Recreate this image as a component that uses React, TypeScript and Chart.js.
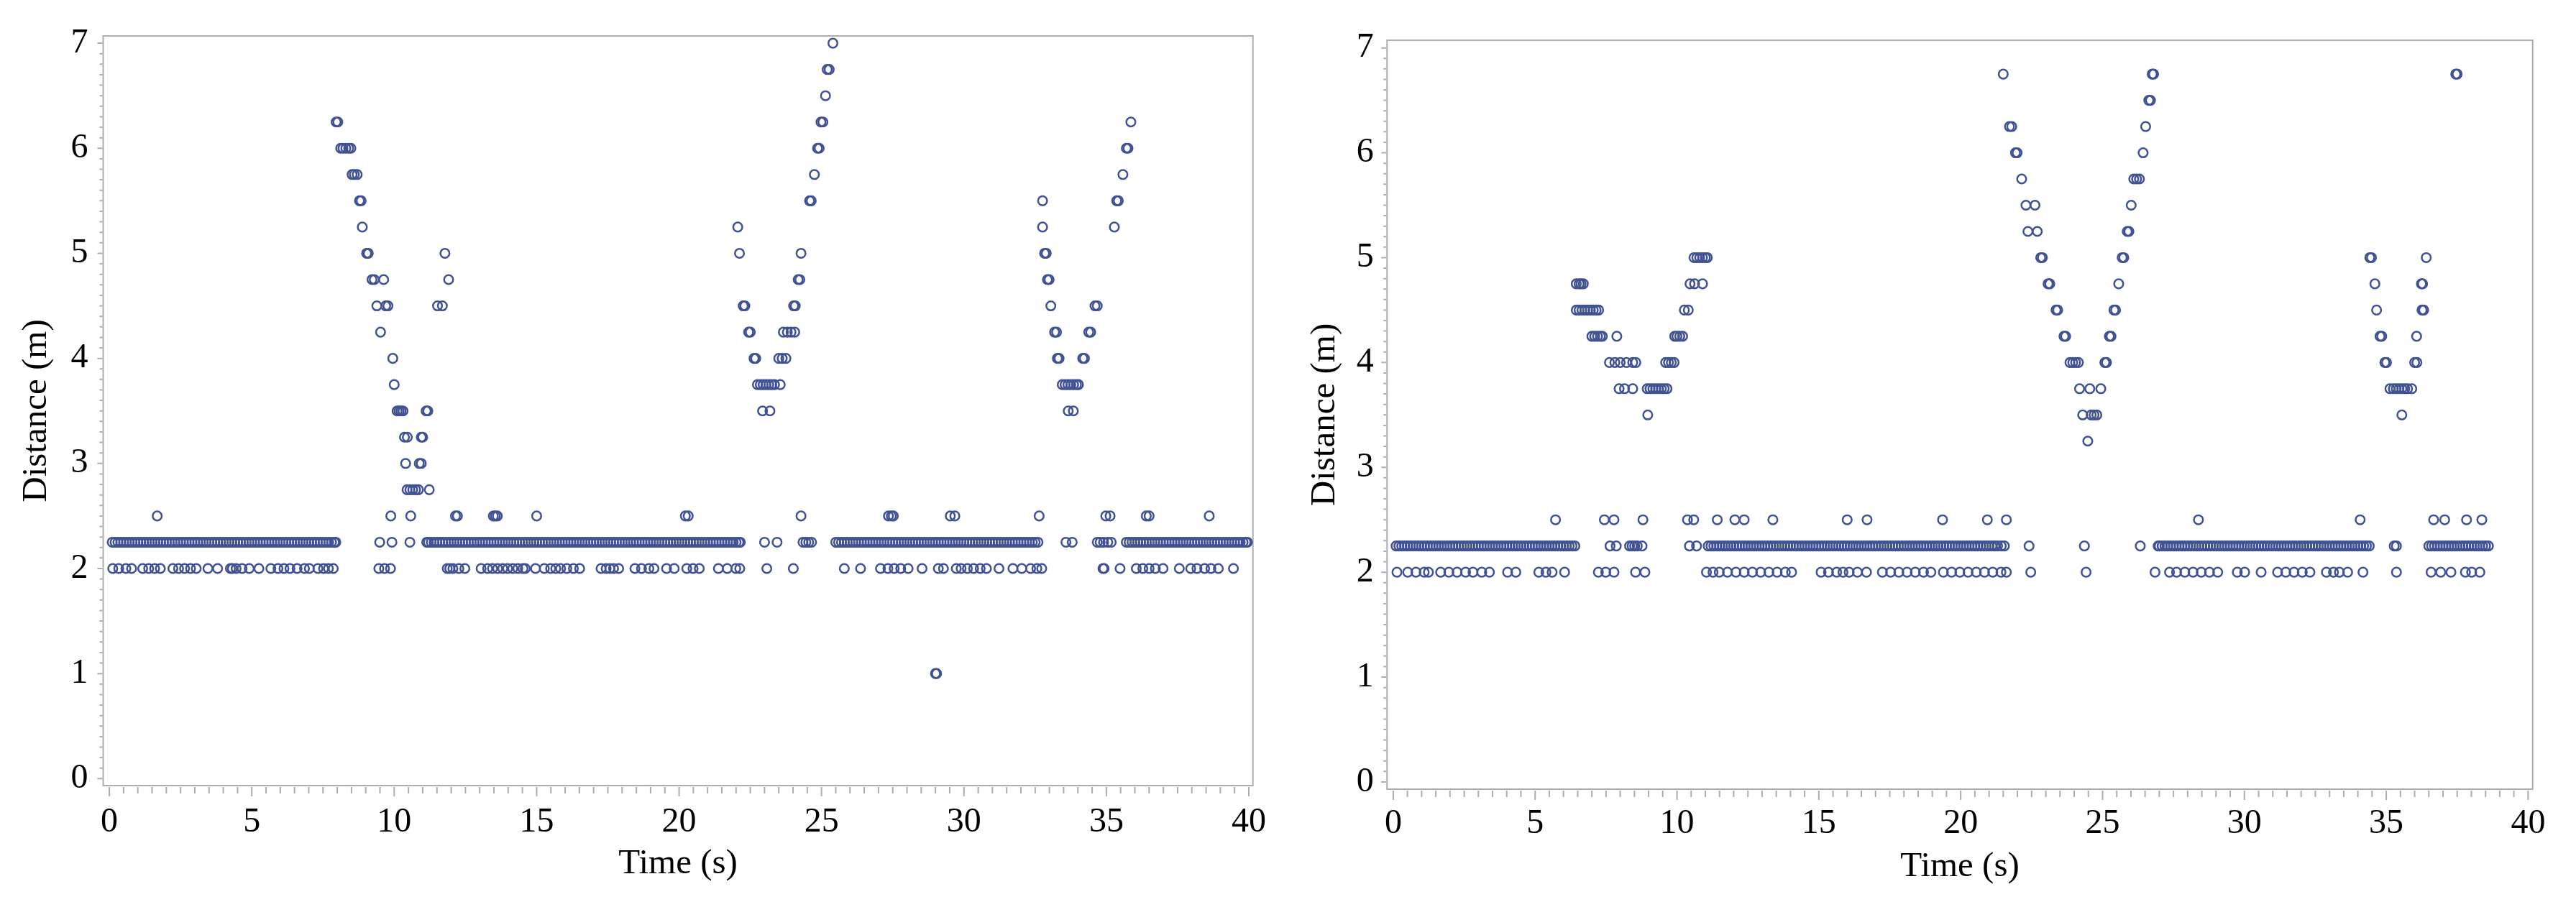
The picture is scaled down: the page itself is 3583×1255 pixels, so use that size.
import React, { useEffect, useRef } from 'react';
import { Chart, registerables } from 'chart.js';

Chart.register(...registerables);

// ---------- axis ticks / labels ----------
const X_TICK_LABELS = [0, 5, 10, 15, 20, 25, 30, 35, 40];
const Y_TICK_LABELS = [0, 1, 2, 3, 4, 5, 6, 7];
const X_TITLE = 'Time (s)';
const Y_TITLE = 'Distance (m)';

// ---------- LEFT panel: times (s) at each distance level (m) ----------
const L_100 = [29.0, 29.04];
const L_200 = [0.12, 0.33, 0.58, 0.78, 1.17, 1.38, 1.59, 1.79, 2.23, 2.43, 2.64, 2.85, 3.05, 3.46, 3.8, 4.25, 4.32, 4.45, 4.66, 4.91, 5.25, 5.67, 5.92, 6.13, 6.34, 6.59, 6.85, 7.02, 7.32, 7.52, 7.69, 7.86, 9.46, 9.66, 9.87, 11.86, 11.95, 12.06, 12.27, 12.48, 13.05, 13.28, 13.45, 13.63, 13.81, 13.98, 14.16, 14.34, 14.52, 14.6, 14.96, 15.27, 15.49, 15.67, 15.84, 16.06, 16.29, 16.51, 17.26, 17.44, 17.57, 17.7, 17.88, 18.45, 18.68, 18.94, 19.12, 19.56, 19.83, 20.27, 20.49, 20.71, 21.38, 21.69, 21.99, 22.13, 23.08, 24.01, 25.8, 26.37, 27.07, 27.33, 27.55, 27.78, 28.04, 28.53, 29.1, 29.28, 29.73, 29.9, 30.12, 30.34, 30.57, 30.79, 31.23, 31.72, 32.03, 32.34, 32.56, 32.73, 34.88, 34.92, 35.48, 36.05, 36.28, 36.5, 36.72, 36.99, 37.56, 37.96, 38.18, 38.45, 38.67, 38.93, 39.46];
const L_225 = [0.1, 0.2, 0.3, 0.4, 0.5, 0.6, 0.7, 0.8, 0.9, 1, 1.1, 1.2, 1.3, 1.4, 1.5, 1.6, 1.7, 1.8, 1.9, 2, 2.1, 2.2, 2.3, 2.4, 2.5, 2.6, 2.7, 2.8, 2.9, 3, 3.1, 3.2, 3.3, 3.4, 3.5, 3.6, 3.7, 3.8, 3.9, 4, 4.1, 4.2, 4.3, 4.4, 4.5, 4.6, 4.7, 4.8, 4.9, 5, 5.1, 5.2, 5.3, 5.4, 5.5, 5.6, 5.7, 5.8, 5.9, 6, 6.1, 6.2, 6.3, 6.4, 6.5, 6.6, 6.7, 6.8, 6.9, 7, 7.1, 7.2, 7.3, 7.4, 7.5, 7.6, 7.7, 7.8, 7.9, 7.95,
  9.49, 9.92, 10.55,
  11.14, 11.2, 11.3, 11.4, 11.5, 11.6, 11.7, 11.8, 11.9, 12, 12.1, 12.2, 12.3, 12.4, 12.5, 12.6, 12.7, 12.8, 12.9, 13, 13.1, 13.2, 13.3, 13.4, 13.5, 13.6, 13.7, 13.8, 13.9, 14, 14.1, 14.2, 14.3, 14.4, 14.5, 14.6, 14.7, 14.8, 14.9, 15, 15.1, 15.2, 15.3, 15.4, 15.5, 15.6, 15.7, 15.8, 15.9, 16, 16.1, 16.2, 16.3, 16.4, 16.5, 16.6, 16.7, 16.8, 16.9, 17, 17.1, 17.2, 17.3, 17.4, 17.5, 17.6, 17.7, 17.8, 17.9, 18, 18.1, 18.2, 18.3, 18.4, 18.5, 18.6, 18.7, 18.8, 18.9, 19, 19.1, 19.2, 19.3, 19.4, 19.5, 19.6, 19.7, 19.8, 19.9, 20, 20.1, 20.2, 20.3, 20.4, 20.5, 20.6, 20.7, 20.8, 20.9, 21, 21.1, 21.2, 21.3, 21.4, 21.5, 21.6, 21.7, 21.8, 21.9, 22, 22.1, 22.15,
  23.0, 23.44, 24.35, 24.45, 24.55, 24.65,
  25.5, 25.6, 25.7, 25.8, 25.9, 26, 26.1, 26.2, 26.3, 26.4, 26.5, 26.6, 26.7, 26.8, 26.9, 27, 27.1, 27.2, 27.3, 27.4, 27.5, 27.6, 27.7, 27.8, 27.9, 28, 28.1, 28.2, 28.3, 28.4, 28.5, 28.6, 28.7, 28.8, 28.9, 29, 29.1, 29.2, 29.3, 29.4, 29.5, 29.6, 29.7, 29.8, 29.9, 30, 30.1, 30.2, 30.3, 30.4, 30.5, 30.6, 30.7, 30.8, 30.9, 31, 31.1, 31.2, 31.3, 31.4, 31.5, 31.6, 31.7, 31.8, 31.9, 32, 32.1, 32.2, 32.3, 32.4, 32.5, 32.6,
  33.58, 33.8, 34.68, 34.78, 34.9, 35.05, 35.17,
  35.7, 35.8, 35.9, 36, 36.1, 36.2, 36.3, 36.4, 36.5, 36.6, 36.7, 36.8, 36.9, 37, 37.1, 37.2, 37.3, 37.4, 37.5, 37.6, 37.7, 37.8, 37.9, 38, 38.1, 38.2, 38.3, 38.4, 38.5, 38.6, 38.7, 38.8, 38.9, 39, 39.1, 39.2, 39.3, 39.4, 39.5, 39.6, 39.7, 39.8, 39.9, 39.95];
const L_250 = [1.68, 9.88, 10.58, 12.15, 12.22, 13.48, 13.55, 13.62, 15.0, 20.22, 20.32, 24.28, 27.35, 27.45, 27.52, 29.52, 29.68, 32.64, 34.98, 35.13, 36.4, 36.5, 38.61];
const L_275 = [10.45, 10.55, 10.65, 10.75, 10.85, 11.23];
const L_300 = [10.4, 10.88, 10.95];
const L_325 = [10.36, 10.46, 10.95, 11.0];
const L_350 = [10.1, 10.17, 10.24, 10.31, 11.12, 11.18, 22.93, 23.19, 33.66, 33.84];
const L_375 = [10.0, 22.75, 22.85, 22.95, 23.05, 23.15, 23.25, 23.35, 23.55, 33.45, 33.55, 33.65, 33.75, 33.85, 33.95, 34.02];
const L_400 = [9.95, 22.63, 22.69, 23.5, 23.62, 23.75, 33.28, 33.34, 34.17, 34.23];
const L_425 = [9.52, 22.44, 22.5, 23.66, 23.8, 23.93, 24.06, 33.18, 33.25, 34.38, 34.45];
const L_450 = [9.39, 9.7, 9.78, 11.52, 11.69, 22.25, 22.31, 24.02, 24.08, 33.05, 34.6, 34.68];
const L_475 = [9.22, 9.3, 9.63, 11.91, 24.18, 24.24, 32.93, 32.99];
const L_500 = [9.03, 9.09, 11.78, 22.12, 24.28, 32.83, 32.89];
const L_525 = [8.88, 22.06, 32.76, 35.28];
const L_550 = [8.78, 8.84, 24.58, 24.64, 32.76, 35.36, 35.42];
const L_575 = [8.52, 8.6, 8.7, 24.75, 35.58];
const L_600 = [8.12, 8.2, 8.3, 8.4, 8.48, 24.86, 24.92, 35.7, 35.76];
const L_625 = [7.96, 8.02, 24.98, 25.05, 35.86];
const L_650 = [25.14];
const L_675 = [25.2, 25.27];
const L_700 = [25.4];

const LEFT_LEVELS = [1, 2, 2.25, 2.5, 2.75, 3, 3.25, 3.5, 3.75, 4, 4.25, 4.5, 4.75, 5, 5.25, 5.5, 5.75, 6, 6.25, 6.5, 6.75, 7];
const LEFT_TIMES = [L_100, L_200, L_225, L_250, L_275, L_300, L_325, L_350, L_375, L_400, L_425, L_450, L_475, L_500, L_525, L_550, L_575, L_600, L_625, L_650, L_675, L_700];

// ---------- RIGHT panel ----------
const R_200 = [0.13, 0.51, 0.8, 1.09, 1.24, 1.67, 1.96, 2.25, 2.55, 2.81, 3.12, 3.39, 4.03, 4.32, 5.13, 5.38, 5.6, 6.04, 7.23, 7.49, 7.78, 8.54, 8.87, 11.04, 11.27, 11.49, 11.78, 12.08, 12.37, 12.66, 12.95, 13.24, 13.53, 13.82, 14.04, 15.08, 15.34, 15.63, 15.85, 16.07, 16.36, 16.68, 17.24, 17.53, 17.82, 18.11, 18.4, 18.69, 18.95, 19.39, 19.68, 19.97, 20.26, 20.55, 20.84, 21.13, 21.42, 21.61, 22.47, 24.42, 26.85, 27.36, 27.61, 27.9, 28.19, 28.48, 28.77, 29.06, 29.75, 30.01, 30.59, 31.17, 31.46, 31.75, 32.04, 32.31, 32.89, 33.14, 33.35, 33.64, 34.18, 35.36, 36.58, 36.92, 37.28, 37.79, 38.01, 38.3];
const R_225 = [0.1, 0.2, 0.3, 0.4, 0.5, 0.6, 0.7, 0.8, 0.9, 1, 1.1, 1.2, 1.3, 1.4, 1.5, 1.6, 1.7, 1.8, 1.9, 2, 2.1, 2.2, 2.3, 2.4, 2.5, 2.6, 2.7, 2.8, 2.9, 3, 3.1, 3.2, 3.3, 3.4, 3.5, 3.6, 3.7, 3.8, 3.9, 4, 4.1, 4.2, 4.3, 4.4, 4.5, 4.6, 4.7, 4.8, 4.9, 5, 5.1, 5.2, 5.3, 5.4, 5.5, 5.6, 5.7, 5.8, 5.9, 6, 6.1, 6.2, 6.3, 6.4,
  7.64, 7.86, 8.33, 8.42, 8.51, 8.6, 8.77, 10.44, 10.69,
  11.1, 11.2, 11.3, 11.4, 11.5, 11.6, 11.7, 11.8, 11.9, 12, 12.1, 12.2, 12.3, 12.4, 12.5, 12.6, 12.7, 12.8, 12.9, 13, 13.1, 13.2, 13.3, 13.4, 13.5, 13.6, 13.7, 13.8, 13.9, 14, 14.1, 14.2, 14.3, 14.4, 14.5, 14.6, 14.7, 14.8, 14.9, 15, 15.1, 15.2, 15.3, 15.4, 15.5, 15.6, 15.7, 15.8, 15.9, 16, 16.1, 16.2, 16.3, 16.4, 16.5, 16.6, 16.7, 16.8, 16.9, 17, 17.1, 17.2, 17.3, 17.4, 17.5, 17.6, 17.7, 17.8, 17.9, 18, 18.1, 18.2, 18.3, 18.4, 18.5, 18.6, 18.7, 18.8, 18.9, 19, 19.1, 19.2, 19.3, 19.4, 19.5, 19.6, 19.7, 19.8, 19.9, 20, 20.1, 20.2, 20.3, 20.4, 20.5, 20.6, 20.7, 20.8, 20.9, 21, 21.1, 21.2, 21.3,
  21.43, 21.54, 22.41, 24.36, 26.33,
  26.96, 27, 27.1, 27.2, 27.3, 27.4, 27.5, 27.6, 27.7, 27.8, 27.9, 28, 28.1, 28.2, 28.3, 28.4, 28.5, 28.6, 28.7, 28.8, 28.9, 29, 29.1, 29.2, 29.3, 29.4, 29.5, 29.6, 29.7, 29.8, 29.9, 30, 30.1, 30.2, 30.3, 30.4, 30.5, 30.6, 30.7, 30.8, 30.9, 31, 31.1, 31.2, 31.3, 31.4, 31.5, 31.6, 31.7, 31.8, 31.9, 32, 32.1, 32.2, 32.3, 32.4, 32.5, 32.6, 32.7, 32.8, 32.9, 33, 33.1, 33.2, 33.3, 33.4, 33.5, 33.6, 33.7, 33.8, 33.9, 34, 34.1, 34.2, 34.3, 34.4,
  35.28, 35.36,
  36.5, 36.6, 36.7, 36.8, 36.9, 37, 37.1, 37.2, 37.3, 37.4, 37.5, 37.6, 37.7, 37.8, 37.9, 38, 38.1, 38.2, 38.3, 38.4, 38.5, 38.6];
const R_250 = [5.72, 7.44, 7.78, 8.8, 10.37, 10.59, 11.42, 12.04, 12.37, 13.38, 16.0, 16.7, 19.36, 20.94, 21.61, 28.38, 34.08, 36.67, 37.06, 37.83, 38.37];
const R_325 = [24.48];
const R_350 = [8.97, 24.3, 24.6, 24.7, 24.8, 35.55];
const R_375 = [7.96, 8.15, 8.44, 8.95, 9.05, 9.15, 9.25, 9.35, 9.45, 9.55, 9.65, 24.19, 24.55, 24.94, 35.13, 35.25, 35.35, 35.45, 35.55, 35.65, 35.75, 35.9];
const R_400 = [7.62, 7.81, 8.0, 8.22, 8.44, 8.55, 9.6, 9.7, 9.8, 9.9, 23.85, 23.95, 24.05, 24.15, 25.08, 25.14, 34.95, 35.01, 36.0, 36.08];
const R_425 = [7.0, 7.1, 7.2, 7.3, 7.37, 7.88, 9.92, 10.0, 10.1, 10.2, 23.64, 23.7, 25.24, 25.3, 34.78, 34.84, 36.07];
const R_450 = [6.45, 6.55, 6.65, 6.75, 6.85, 6.95, 7.05, 7.15, 7.24, 10.26, 10.4, 23.36, 23.42, 25.4, 25.46, 34.66, 36.26, 36.32];
const R_475 = [6.45, 6.55, 6.62, 6.7, 10.46, 10.62, 10.9, 23.08, 23.14, 25.57, 34.6, 36.24, 36.28];
const R_500 = [10.6, 10.7, 10.8, 10.9, 11.0, 11.07, 22.82, 22.88, 25.69, 25.75, 34.42, 34.48, 36.41];
const R_525 = [22.37, 22.7, 25.87, 25.93];
const R_550 = [22.3, 22.62, 26.01];
const R_575 = [22.15, 26.1, 26.2, 26.3];
const R_600 = [21.93, 21.99, 26.43];
const R_625 = [21.72, 21.8, 26.52];
const R_650 = [26.63, 26.69];
const R_675 = [21.5, 26.75, 26.8, 37.45, 37.5];

const RIGHT_LEVELS = [2, 2.25, 2.5, 3.25, 3.5, 3.75, 4, 4.25, 4.5, 4.75, 5, 5.25, 5.5, 5.75, 6, 6.25, 6.5, 6.75];
const RIGHT_TIMES = [R_200, R_225, R_250, R_325, R_350, R_375, R_400, R_425, R_450, R_475, R_500, R_525, R_550, R_575, R_600, R_625, R_650, R_675];

// ---------- styles ----------
const MARKER_COLOR = 'rgb(64, 82, 148)';
const FRAME_COLOR = '#A9ADB4';
const TICK_COLOR = '#A9ADB4';
const FONT_FAMILY = '"Liberation Serif", "Times New Roman", serif';

type PanelLayout = {
  width: number;
  height: number;
  padTop: number;
  padRight: number;
  yAxisWidth: number;
  xAxisHeight: number;
  yLabelPad: number;
  xLabelPad: number;
  xTitlePad: number;
  yTitlePad: number;
  xMin: number;
  xMax: number;
  yMin: number;
  yMax: number;
};

const frameAndTicks = {
  id: 'frameAndTicks',
  beforeDatasetsDraw(chart: any) {
    const { ctx, chartArea, scales } = chart;
    const { left, right, top, bottom } = chartArea;
    const xs = scales.x;
    const ys = scales.y;
    ctx.save();
    ctx.strokeStyle = FRAME_COLOR;
    ctx.lineWidth = 2;
    ctx.strokeRect(left, top, right - left, bottom - top);
    ctx.strokeStyle = TICK_COLOR;
    ctx.lineWidth = 2;
    ctx.beginPath();
    for (let i = 0; i <= 80; i++) {
      const px = xs.getPixelForValue(i * 0.5);
      const len = i % 10 === 0 ? 15 : 11;
      ctx.moveTo(px, bottom + 2);
      ctx.lineTo(px, bottom + len);
    }
    for (let i = 0; i <= 70; i++) {
      const py = ys.getPixelForValue(i / 10);
      const len = i % 10 === 0 ? 8 : 5;
      ctx.moveTo(left - 1, py);
      ctx.lineTo(left - len, py);
    }
    ctx.stroke();
    ctx.restore();
  },
};

function Panel({ levels, times, layout }: { levels: number[]; times: number[][]; layout: PanelLayout }) {
  const ref = useRef<HTMLCanvasElement | null>(null);
  useEffect(() => {
    if (!ref.current) return;
    const points: { x: number; y: number }[] = [];
    levels.forEach((lv, i) => {
      times[i].forEach((t) => points.push({ x: t, y: lv }));
    });
    const chart = new Chart(ref.current, {
      type: 'scatter',
      data: {
        datasets: [
          {
            data: points,
            pointStyle: 'circle',
            pointRadius: 6.3,
            pointBorderWidth: 2.5,
            borderColor: MARKER_COLOR,
            pointBorderColor: MARKER_COLOR,
            backgroundColor: 'rgba(0,0,0,0)',
            pointBackgroundColor: 'rgba(0,0,0,0)',
            showLine: false,
            clip: false as any,
          },
        ],
      },
      options: {
        responsive: false,
        animation: false,
        devicePixelRatio: 1,
        events: [],
        layout: { padding: { top: layout.padTop, right: layout.padRight, left: 0, bottom: 0 } },
        plugins: { legend: { display: false }, tooltip: { enabled: false }, title: { display: false } },
        scales: {
          x: {
            type: 'linear',
            position: 'bottom',
            min: layout.xMin,
            max: layout.xMax,
            afterBuildTicks: (axis: any) => {
              axis.ticks = X_TICK_LABELS.map((v) => ({ value: v }));
            },
            afterFit: (axis: any) => {
              axis.height = layout.xAxisHeight;
            },
            grid: { display: false, drawTicks: false },
            border: { display: false },
            ticks: {
              autoSkip: false,
              maxRotation: 0,
              minRotation: 0,
              padding: layout.xLabelPad,
              color: '#000',
              font: { family: FONT_FAMILY, size: 48, lineHeight: 1 },
            },
            title: {
              display: true,
              text: X_TITLE,
              color: '#000',
              font: { family: FONT_FAMILY, size: 49, lineHeight: 1 },
              padding: { top: 0, bottom: layout.xTitlePad },
            },
          },
          y: {
            type: 'linear',
            position: 'left',
            min: layout.yMin,
            max: layout.yMax,
            afterBuildTicks: (axis: any) => {
              axis.ticks = Y_TICK_LABELS.map((v) => ({ value: v }));
            },
            afterFit: (axis: any) => {
              axis.width = layout.yAxisWidth;
            },
            grid: { display: false, drawTicks: false },
            border: { display: false },
            ticks: {
              autoSkip: false,
              padding: layout.yLabelPad,
              color: '#000',
              font: { family: FONT_FAMILY, size: 48, lineHeight: 1 },
            },
            title: {
              display: true,
              text: Y_TITLE,
              color: '#000',
              font: { family: FONT_FAMILY, size: 49, lineHeight: 1 },
              padding: { top: layout.yTitlePad, bottom: 0 },
            },
          },
        },
      } as any,
      plugins: [frameAndTicks],
    });
    return () => chart.destroy();
  }, [levels, times, layout]);
  return (
    <canvas
      ref={ref}
      width={layout.width}
      height={layout.height}
      style={{ display: 'block', width: layout.width, height: layout.height }}
    />
  );
}

const LEFT_LAYOUT: PanelLayout = {
  width: 1792,
  height: 1255,
  padTop: 50,
  padRight: 49.3,
  yAxisWidth: 143.5,
  xAxisHeight: 162,
  yLabelPad: 21,
  xLabelPad: 27,
  xTitlePad: 28,
  yTitlePad: 26.5,
  xMin: -0.217,
  xMax: 40.144,
  yMin: -0.066,
  yMax: 7.069,
};

const RIGHT_LAYOUT: PanelLayout = {
  width: 1791,
  height: 1255,
  padTop: 56,
  padRight: 60.3,
  yAxisWidth: 137.3,
  xAxisHeight: 157,
  yLabelPad: 18.5,
  xLabelPad: 24,
  xTitlePad: 24,
  yTitlePad: 27,
  xMin: -0.218,
  xMax: 40.16,
  yMin: -0.069,
  yMax: 7.073,
};

export default function App() {
  useEffect(() => {
    document.body.style.margin = '0';
    document.body.style.background = '#fff';
  }, []);
  return (
    <div style={{ display: 'flex', width: 3583, height: 1255, overflow: 'hidden', background: '#fff' }}>
      <Panel levels={LEFT_LEVELS} times={LEFT_TIMES} layout={LEFT_LAYOUT} />
      <Panel levels={RIGHT_LEVELS} times={RIGHT_TIMES} layout={RIGHT_LAYOUT} />
    </div>
  );
}
